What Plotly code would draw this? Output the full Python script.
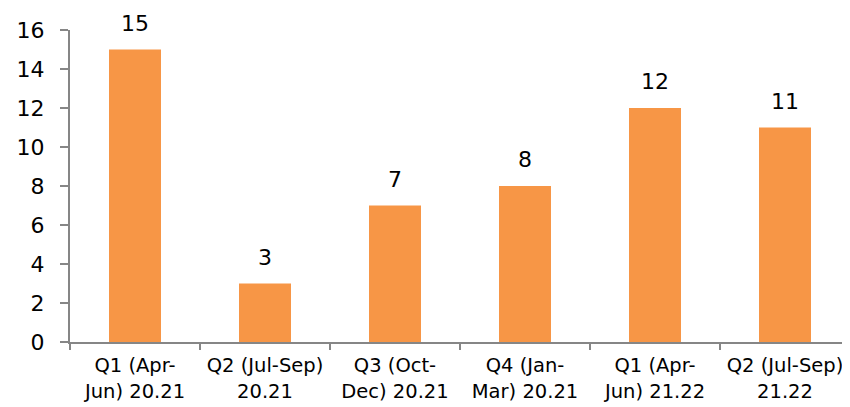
import plotly.graph_objects as go

categories = ["Q1 (Apr-<br>Jun) 20.21", "Q2 (Jul-Sep)<br>20.21", "Q3 (Oct-<br>Dec) 20.21",
              "Q4 (Jan-<br>Mar) 20.21", "Q1 (Apr-<br>Jun) 21.22", "Q2 (Jul-Sep)<br>21.22"]
values = [15, 3, 7, 8, 12, 11]
y_ticks = [0, 2, 4, 6, 8, 10, 12, 14, 16]

font_family = "DejaVu Sans"
axis_color = "#868686"

fig = go.Figure(go.Bar(
    x=categories, y=values,
    marker=dict(color="#F79646", line=dict(width=0)),
    hoverinfo="x+y",
))

for c, v in zip(categories, values):
    fig.add_annotation(
        x=c, y=v, text=str(v), showarrow=False, yanchor="bottom", yshift=12,
        font=dict(family=font_family, size=22, color="#000000"),
    )

fig.update_layout(
    width=850, height=407,
    margin=dict(l=62, r=8, t=22, b=73),
    paper_bgcolor="white", plot_bgcolor="white",
    bargap=0.6, showlegend=False,
    font=dict(family=font_family, color="#000000"),
)
fig.update_xaxes(
    type="category", tickson="boundaries", ticks="outside", ticklen=6,
    tickcolor=axis_color, tickwidth=1.5, showline=True, linecolor=axis_color,
    linewidth=2, tickfont=dict(size=19.5, family=font_family), showgrid=False,
    automargin=False, ticklabelstandoff=5,
)
fig.update_yaxes(
    range=[0, 16], tickvals=y_ticks, ticks="outside", ticklen=8,
    tickcolor=axis_color, tickwidth=1.5, showline=True, linecolor=axis_color,
    linewidth=2, tickfont=dict(size=22, family=font_family), showgrid=False,
    zeroline=False, ticklabelstandoff=11, automargin=False,
)

fig.write_html("out.html")
